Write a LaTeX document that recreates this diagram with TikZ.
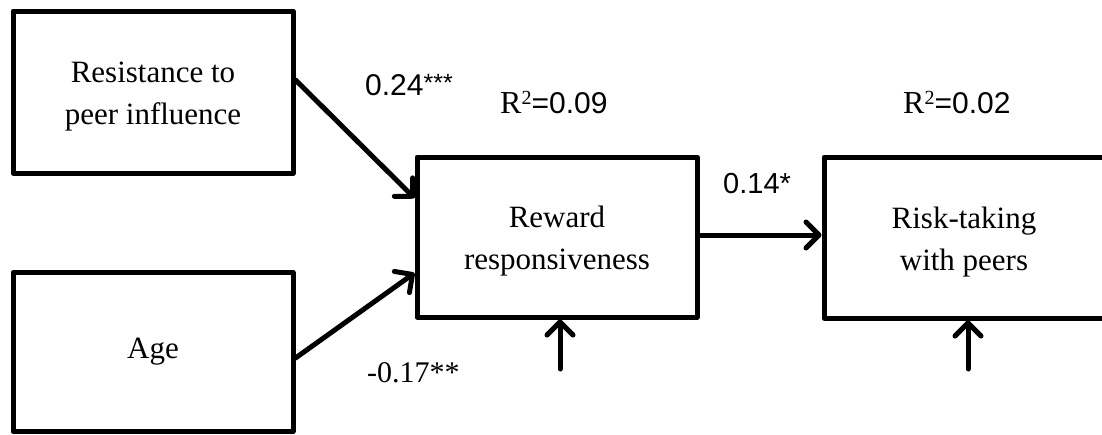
\documentclass[tikz,border=0pt]{standalone}
\usepackage{fontspec}
\setmainfont{Liberation Serif}
\setsansfont{Liberation Sans}
\usetikzlibrary{arrows.meta}
\tikzset{
  box/.style={draw, line width=5pt, line join=round, minimum width=280pt, inner sep=0pt, align=center, font=\fontsize{31}{42}\selectfont},
  conn/.style={line width=5pt, line cap=round, -{Straight Barb[length=13pt,width=26pt,line cap=round,line join=round]}},
  lab/.style={anchor=base west, inner sep=0pt},
  sanslab/.style={lab, font=\sffamily\fontsize{30}{36}\selectfont},
  seriflab/.style={lab, font=\fontsize{30}{36}\selectfont},
}
\newcommand{\supstars}[1]{\raisebox{4pt}{\fontsize{25}{30}\selectfont #1}}
\newcommand{\rsq}{{\fontsize{32}{36}\selectfont R\raisebox{9pt}{\fontsize{20}{24}\selectfont 2}}}
\begin{document}
\begin{tikzpicture}[x=1pt, y=-1pt]
\useasboundingbox (0,0) rectangle (1102,434);
\clip (0,0) rectangle (1102,434);
\node[box, minimum height=162pt] (r1) at (153,92) {\rule{0pt}{30pt}Resistance to\\peer influence};
\node[box, minimum height=159pt] (age) at (153,352) {Age};
\node[box, minimum height=160pt] (rr) at (557,237) {\rule{0pt}{30pt}Reward\\responsiveness};
\node[box, minimum height=161pt] (rt) at (964,237.5) {\rule{0pt}{30pt}Risk-taking\\with peers};
\coordinate (e1) at (560,369);
\coordinate (e2) at (968,369);
\draw[conn] ([yshift=12pt]r1.east) -- ([yshift=39pt]rr.west);
\draw[conn] ([yshift=-6pt]age.east) -- ([yshift=-36pt]rr.west);
\draw[conn] ([yshift=2pt]rr.east) -- ([yshift=2.5pt]rt.west);
\draw[conn] (e1) -- (e1 |- rr.south);
\draw[conn] (e2) -- (e2 |- rt.south);
\node[sanslab] (l1) at (365,95) {0.24\supstars{***}};
\node[lab] (l2) at (500,113) {\rsq\sffamily\fontsize{30}{36}\selectfont=0.09};
\node[lab] (l3) at (903,113) {\rsq\sffamily\fontsize{30}{36}\selectfont=0.02};
\node[sanslab, font=\sffamily\fontsize{29}{34}\selectfont] (l4) at (723,193) {0.14*};
\node[seriflab] (l5) at (367,382) {-0.17**};
\end{tikzpicture}
\end{document}
